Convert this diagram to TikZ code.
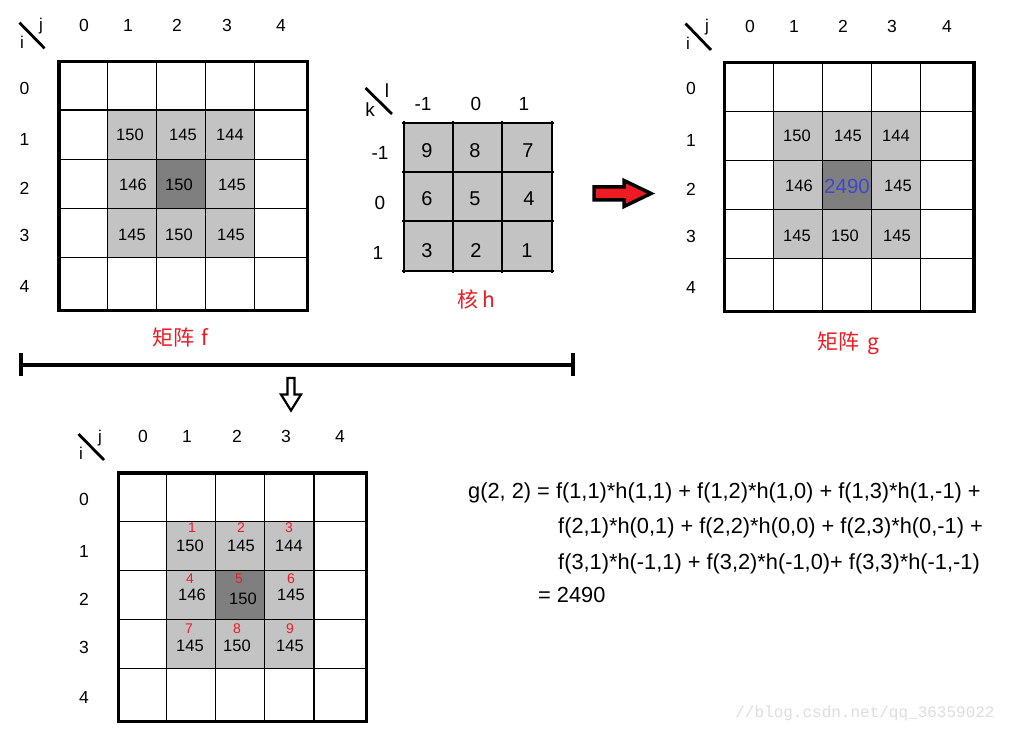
\documentclass[tikz,border=0pt]{standalone}
\usepackage{fontspec}
\setmainfont{Liberation Sans}
\newfontfamily\cjk{Noto Sans CJK SC}
\newfontfamily\wmfont{Liberation Mono}
\newcommand\fsz[1]{\fontsize{#1}{#1}\selectfont}
\definecolor{pred}{RGB}{237,28,36}
\definecolor{pblue}{RGB}{63,72,204}
\definecolor{lgray}{RGB}{195,195,195}
\definecolor{dgray}{RGB}{127,127,127}
\begin{document}
\begin{tikzpicture}[x=1pt,y=-1pt,
  lbl/.style={inner sep=0pt, font=\fsz{17.5}},
  ij/.style={inner sep=0pt, font=\fsz{17}},
  cell/.style={inner sep=0pt, font=\fsz{16.5}},
  idx/.style={inner sep=0pt, font=\fsz{14}, text=pred},
  klbl/.style={inner sep=0pt, font=\fsz{19}},
  kval/.style={inner sep=0pt, font=\fsz{20}},
  title/.style={inner sep=0pt, font=\cjk\fsz{21}, text=pred},
  eq/.style={inner sep=0pt, anchor=base west, font=\fsz{21.8}},
  thinline/.style={line width=1.3pt},
  kline/.style={line width=1.2pt},
  border/.style={line width=3.3pt},
  diag/.style={line width=2.8pt},
  bar/.style={line width=3.5pt},
]
\useasboundingbox (0,0) rectangle (1012,735);
\fill[white] (0,0) rectangle (1012,735);

% ================= matrix f =================
\fill[lgray] (107.3,110) rectangle (254.3,257.3);
\fill[dgray] (156.3,159.3) rectangle (205.3,208.3);
\foreach \x in {107.3,156.3,205.3,254.3} \draw[thinline] (\x,61.5) -- (\x,310.7);
\foreach \y in {110,159.3,208.3,257.3} \draw[thinline] (59,\y) -- (307.3,\y);
\draw[border] (59,61.5) rectangle (307.3,310.7);
\draw[diag] (19.5,22.7) -- (44.5,48.3);
\node[ij] (fj) at (41,26) {j};
\node[ij] (fi) at (22,42) {i};
\foreach \t/\x in {0/84,1/128,2/177,3/227,4/281} \node[lbl] (fc\t) at (\x,25) {\t};
\foreach \t/\y in {0/88,1/139,2/188,3/235,4/286} \node[lbl] (fr\t) at (24.5,\y) {\t};
\node[cell] (f11) at (130,135) {150};
\node[cell] (f12) at (183,135) {145};
\node[cell] (f13) at (230,135) {144};
\node[cell] (f21) at (133,185) {146};
\node[cell] (f22) at (179,185) {150};
\node[cell] (f23) at (232,185) {145};
\node[cell] (f31) at (132,235) {145};
\node[cell] (f32) at (179,235) {150};
\node[cell] (f33) at (231,235) {145};
\node[title] (ftitle) at (180,338) {矩阵\hspace{7pt}f};

% ================= kernel h =================
\fill[lgray] (404,123) rectangle (552,271);
\foreach \x in {404,453,502,552} \draw[kline] (\x,121) -- (\x,273);
\foreach \y in {123,172,221,271} \draw[kline] (402,\y) -- (554,\y);
\draw[diag] (365.5,88) -- (392,114);
\node[klbl] (hl) at (387,91) {l};
\node[klbl] (hk) at (370,110) {k};
\node[klbl] (hc1) at (423,104) {-1};
\node[klbl] (hc2) at (476,104) {0};
\node[klbl] (hc3) at (524,104) {1};
\node[klbl] (hr1) at (380,153) {-1};
\node[klbl] (hr2) at (380,203) {0};
\node[klbl] (hr3) at (378,253) {1};
\node[kval] (h11) at (427,151) {9};
\node[kval] (h12) at (475,151) {8};
\node[kval] (h13) at (528,151) {7};
\node[kval] (h21) at (427,199) {6};
\node[kval] (h22) at (475,199) {5};
\node[kval] (h23) at (529,199) {4};
\node[kval] (h31) at (427,251) {3};
\node[kval] (h32) at (476,251) {2};
\node[kval] (h33) at (527,251) {1};
\node[title] (htitle) at (476.5,299) {核 h};

% ================= red arrow =================
\draw[line width=3.5pt, fill=pred, line join=miter]
  (594,187) -- (624,187) -- (624,180.5) -- (651,193.5) -- (624,206.5) -- (624,200) -- (594,200) -- cycle;

% ================= matrix g =================
\fill[lgray] (773.3,111.3) rectangle (920.3,258.3);
\fill[dgray] (822.3,160.3) rectangle (871.3,209.3);
\foreach \x in {773.3,822.3,871.3,920.3} \draw[thinline] (\x,62.3) -- (\x,311.3);
\foreach \y in {111.3,160.3,209.3,258.3} \draw[thinline] (724.7,\y) -- (974,\y);
\draw[border] (724.7,62.3) rectangle (974,311.3);
\draw[diag] (685.5,23.5) -- (711,50);
\node[ij] (gj) at (707,27) {j};
\node[ij] (gi) at (688,43) {i};
\foreach \t/\x in {0/750,1/794,2/843,3/892,4/947} \node[lbl] (gc\t) at (\x,26) {\t};
\foreach \t/\y in {0/88,1/140,2/189,3/236,4/287} \node[lbl] (gr\t) at (691,\y) {\t};
\node[cell] (g11) at (797,136) {150};
\node[cell] (g12) at (848,136) {145};
\node[cell] (g13) at (896,136) {144};
\node[cell] (g21) at (799,186) {146};
\node[inner sep=0pt, font=\fsz{20.5}, text=pblue] (g22) at (847,186) {2490};
\node[cell] (g23) at (898,186) {145};
\node[cell] (g31) at (797,236) {145};
\node[cell] (g32) at (845,236) {150};
\node[cell] (g33) at (897,236) {145};
\node[title] (gtitle) at (848.5,343) {矩阵\hspace{8pt}g};

% ================= bar and down arrow =================
\coordinate (barL) at (21,365);
\coordinate (barR) at (573,365);
\draw[bar] (barL) -- (barR);
\draw[bar] ([yshift=-11pt]barL) -- ([yshift=12pt]barL);
\draw[bar] ([yshift=-11pt]barR) -- ([yshift=12pt]barR);
\draw[line width=2.2pt, fill=white, line join=miter]
  (287.5,378) -- (294.5,378) -- (294.5,394.5) -- (301,394.5) -- (291,410.5) -- (281,394.5) -- (287.5,394.5) -- cycle;

% ================= bottom matrix =================
\fill[lgray] (166.7,521.7) rectangle (314,668.7);
\fill[dgray] (215.7,570.7) rectangle (264.7,619.3);
\foreach \x in {166.7,215.7,264.7,314} \draw[thinline] (\x,473) -- (\x,721.7);
\foreach \y in {521.7,570.7,619.3,668.7} \draw[thinline] (118.5,\y) -- (366.7,\y);
\draw[border] (118.5,473) rectangle (366.7,721.7);
\draw[diag] (78.5,434) -- (104,460);
\node[ij] (bj) at (100,438) {j};
\node[ij] (bi) at (81,453) {i};
\foreach \t/\x in {0/143,1/187,2/237,3/286,4/340} \node[lbl] (bc\t) at (\x,436) {\t};
\foreach \t/\y in {0/499,1/551,2/599,3/647,4/697} \node[lbl] (br\t) at (84,\y) {\t};
\node[idx] (bi1) at (192,528) {1};
\node[idx] (bi2) at (241,528) {2};
\node[idx] (bi3) at (289,528) {3};
\node[idx] (bi4) at (190,579) {4};
\node[idx] (bi5) at (239,579) {5};
\node[idx] (bi6) at (291,579) {6};
\node[idx] (bi7) at (189,629) {7};
\node[idx] (bi8) at (237,629) {8};
\node[idx] (bi9) at (290,629) {9};
\node[cell] (b11) at (190,546) {150};
\node[cell] (b12) at (241,546) {145};
\node[cell] (b13) at (289,546) {144};
\node[cell] (b21) at (192,595) {146};
\node[cell] (b22) at (243,599) {150};
\node[cell] (b23) at (291,595) {145};
\node[cell] (b31) at (190,646) {145};
\node[cell] (b32) at (237,646) {150};
\node[cell] (b33) at (290,646) {145};

% ================= equation =================
\node[eq] (eq1) at (468,498) {g(2, 2) = f(1,1)*h(1,1) + f(1,2)*h(1,0) + f(1,3)*h(1,-1) +};
\node[eq] (eq2) at (558,533) {f(2,1)*h(0,1) + f(2,2)*h(0,0) + f(2,3)*h(0,-1) +};
\node[eq] (eq3) at (558,569) {f(3,1)*h(-1,1) + f(3,2)*h(-1,0)+ f(3,3)*h(-1,-1)};
\node[eq] (eq4) at (538,602) {= 2490};

% ================= watermark =================
\node[inner sep=0pt, font=\wmfont\fsz{16}, text=black!13] (wm) at (865,713) {//blog.csdn.net/qq\_36359022};
\end{tikzpicture}
\end{document}
